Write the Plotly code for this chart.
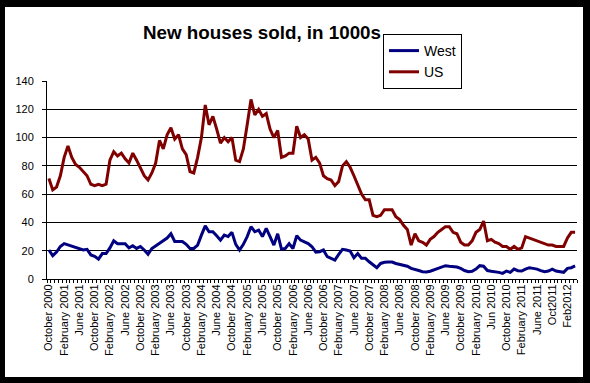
import plotly.graph_objects as go

# Monthly data, October 2000 .. April 2012 (thousands of new houses sold)
months = [f"{m} {y}" for y in range(2000, 2013) for m in
          ["Jan", "Feb", "Mar", "Apr", "May", "Jun", "Jul", "Aug", "Sep", "Oct", "Nov", "Dec"]]
months = months[9:9 + 139]

us = [71, 63, 65, 73, 86, 94, 86, 81, 79, 76, 73, 67, 66, 67, 66, 67, 84, 90, 87, 89,
      85, 82, 89, 84, 78, 73, 70, 75, 82, 98, 92, 102, 107, 99, 102, 92, 88, 76, 75, 86,
      100, 123, 109, 115, 106, 96, 100, 97, 100, 84, 83, 92, 109, 127, 116, 120, 115, 117, 106, 100,
      105, 86, 87, 89, 89, 108, 100, 102, 99, 84, 86, 82, 73, 71, 70, 66, 69, 80, 83, 79,
      73, 66, 60, 56, 56, 45, 44, 45, 49, 49, 49, 44, 42, 38, 35, 24, 32, 27, 26, 24,
      28, 30, 33, 35, 37, 37, 33, 32, 26, 24, 24, 27, 33, 35, 41, 27, 28, 26, 25, 23,
      23, 21, 23, 21, 22, 30, 29, 28, 27, 26, 25, 24, 24, 23, 23, 23, 29, 33, 33]

west = [20.5, 16.5, 19, 23, 25, 24, 23, 22, 21, 20.5, 21, 17, 16, 14, 18, 18, 22, 27, 25, 25,
        25, 22, 23.5, 21.6, 23, 20.5, 17.5, 21.6, 23.5, 25, 27, 29, 32, 26.5, 26.5, 26.5, 24.5, 21.6, 21.6, 24,
        31, 37.6, 33.4, 33.4, 30.6, 27.5, 31, 30, 33, 24.5, 20.5, 24.5, 30, 37, 33.4, 34.6, 30, 35.8, 30, 24,
        32, 21, 21.6, 25, 21.6, 30.6, 27.5, 26, 25, 22.8, 19, 19.3, 20.5, 15.8, 14.6, 13.4, 17.4, 21, 20.5, 19.8,
        15, 18, 14.6, 14.6, 12.2, 9.9, 8, 11, 11.8, 12, 12, 11, 10.4, 9.9, 9, 7.5, 7, 6, 5.2, 5,
        5.5, 6.5, 7, 8, 9.4, 9, 8.7, 8.5, 7.5, 6, 5.2, 5.5, 7, 9.4, 9, 6, 5.5, 5.2, 4.7, 4,
        5.6, 4.7, 7, 5.9, 5.6, 7, 8, 7.5, 7, 5.9, 5.2, 5.6, 7, 5.6, 5.2, 4.7, 7.5, 8, 9.2]

tick_labels = ["October 2000", "February 2001", "June 2001", "October 2001", "February 2002",
               "June 2002", "October 2002", "February 2003", "June 2003", "October 2003",
               "February 2004", "June 2004", "October 2004", "February 2005", "June 2005",
               "October 2005", "February 2006", "June 2006", "October 2006", "February 2007",
               "June 2007", "October 2007", "February 2008", "June 2008", "October 2008",
               "February 2009", "June 2009", "October 2009", "February 2010", "Jun 2010",
               "October 2010", "February 2011", "June 2011", "Oct2011", "Feb2012"]

y_ticks = [0, 20, 40, 60, 80, 100, 120, 140]
grid_vals = [20, 40, 60, 80, 100, 120]

idx = list(range(len(months)))
tick_pos = idx[::4][:len(tick_labels)]

fig = go.Figure()
fig.add_trace(go.Scatter(x=idx, y=west, mode="lines", name="West",
                         line=dict(color="#000080", width=3), legendgroup="a",
                         customdata=months, hovertemplate="%{customdata}: %{y}<extra>West</extra>"))
fig.add_trace(go.Scatter(x=idx, y=us, mode="lines", name="US",
                         line=dict(color="#800000", width=3), legendgroup="b",
                         customdata=months, hovertemplate="%{customdata}: %{y}<extra>US</extra>"))

W, H = 590, 383
L, R, T, B = 47, 13, 81, 104
pw, ph = W - L - R, H - T - B

def px_x(p):
    return (p - L) / pw

def px_y(p):
    return (H - B - p) / ph

fig.update_layout(
    width=W, height=H,
    margin=dict(l=L, r=R, t=T, b=B, pad=0, autoexpand=False),
    paper_bgcolor="black",
    plot_bgcolor="white",
    font=dict(family="Liberation Sans, Arial, sans-serif", color="black"),
    title=dict(text="<b>New houses sold, in 1000s</b>", xref="container", x=262 / W,
               xanchor="center", yref="container", y=1 - 32 / H, yanchor="middle",
               font=dict(size=18.8, color="black")),
    showlegend=True,
    legend=dict(x=px_x(383), y=px_y(34), xanchor="left", yanchor="top",
                bgcolor="white", bordercolor="black", borderwidth=1,
                font=dict(size=14, color="black"), traceorder="grouped",
                tracegroupgap=0, itemwidth=30),
    shapes=[dict(type="rect", xref="paper", yref="paper", layer="below",
                 x0=px_x(5), x1=px_x(583), y0=px_y(377), y1=px_y(7),
                 fillcolor="white", line=dict(width=0))],
    xaxis=dict(range=[-0.5, len(months) - 0.5], tickmode="array", tickvals=tick_pos,
               ticktext=tick_labels, tickangle=-90, tickfont=dict(size=11, color="black"),
               ticks="", showgrid=False, showline=True, linecolor="black", linewidth=1,
               zeroline=False,
               minor=dict(ticks="outside", tick0=-0.5, dtick=1, ticklen=3,
                          tickcolor="black", showgrid=False)),
    yaxis=dict(range=[0, 140], tickmode="array", tickvals=y_ticks,
               tickfont=dict(size=11, color="black"), ticks="outside", ticklen=4,
               tickcolor="black", showline=True, linecolor="black", linewidth=1,
               showgrid=False, zeroline=False, ticklabelstandoff=6),
    yaxis2=dict(range=[0, 140], overlaying="y", side="left", tickmode="array",
                tickvals=grid_vals, showticklabels=False, ticks="", showgrid=True,
                gridcolor="black", gridwidth=1, zeroline=False, showline=False),
)
# invisible helper trace so the gridline axis is drawn
fig.add_trace(go.Scatter(x=[idx[0]], y=[None], yaxis="y2", showlegend=False,
                         hoverinfo="skip", mode="lines"))

fig.write_html("out.html", config={"displayModeBar": False},
               post_script="document.body.style.margin='0px';document.body.style.overflow='hidden';")
